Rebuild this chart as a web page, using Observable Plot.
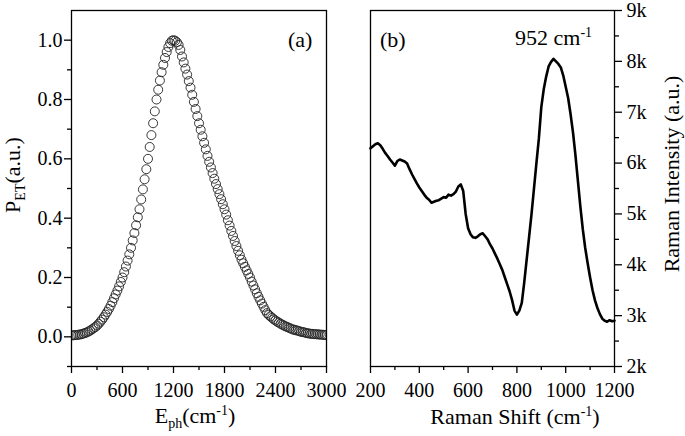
<!DOCTYPE html>
<html><head><meta charset="utf-8">
<script src="https://cdn.jsdelivr.net/npm/d3@7"></script>
<script src="https://cdn.jsdelivr.net/npm/@observablehq/plot@0.6"></script>
<style>
body{margin:0;background:#fff;}
#wrap{position:relative;width:685px;height:436px;overflow:hidden;background:#fff;}
#wrap svg{position:absolute;top:0;}
</style></head><body><div id="wrap"></div>
<script>
// Panel (a): P_ET vs E_ph
const ephE = [0,20,40,60,80,100,120,140,160,180,200,220,240,260,280,300,320,340,360,380,400,420,440,460,480,500,520,540,560,580,600,620,640,660,680,700,720,740,760,780,800,820,840,860,880,900,920,940,960,980,1000,1020,1040,1060,1080,1100,1120,1140,1160,1180,1200,1220,1240,1260,1280,1300,1320,1340,1360,1380,1400,1420,1440,1460,1480,1500,1520,1540,1560,1580,1600,1620,1640,1660,1680,1700,1720,1740,1760,1780,1800,1820,1840,1860,1880,1900,1920,1940,1960,1980,2000,2020,2040,2060,2080,2100,2120,2140,2160,2180,2200,2220,2240,2260,2280,2300,2320,2340,2360,2380,2400,2420,2440,2460,2480,2500,2520,2540,2560,2580,2600,2620,2640,2660,2680,2700,2720,2740,2760,2780,2800,2820,2840,2860,2880,2900,2920,2940,2960,2980,3000];
const petP = [0.005,0.005,0.006,0.006,0.007,0.008,0.009,0.011,0.013,0.015,0.018,0.021,0.025,0.029,0.033,0.038,0.044,0.051,0.058,0.066,0.075,0.084,0.094,0.105,0.117,0.130,0.143,0.156,0.170,0.185,0.200,0.218,0.237,0.257,0.278,0.300,0.325,0.350,0.376,0.403,0.430,0.463,0.497,0.531,0.565,0.600,0.640,0.680,0.720,0.760,0.800,0.833,0.864,0.892,0.917,0.940,0.960,0.977,0.990,0.998,1.000,0.998,0.993,0.984,0.967,0.945,0.925,0.904,0.884,0.862,0.840,0.816,0.792,0.768,0.744,0.720,0.698,0.676,0.654,0.632,0.610,0.590,0.571,0.552,0.533,0.515,0.498,0.481,0.464,0.447,0.430,0.412,0.393,0.375,0.357,0.340,0.323,0.306,0.290,0.275,0.260,0.248,0.236,0.224,0.212,0.200,0.186,0.173,0.160,0.147,0.135,0.123,0.112,0.101,0.090,0.080,0.074,0.069,0.064,0.059,0.055,0.051,0.048,0.044,0.041,0.038,0.035,0.033,0.030,0.028,0.025,0.024,0.022,0.021,0.019,0.017,0.016,0.015,0.013,0.012,0.011,0.010,0.010,0.009,0.009,0.008,0.008,0.007,0.007,0.006,0.006];

// Panel (b): Raman spectrum
const ramanShift = [200,210,220,230,240,250,260,270,280,290,300,310,320,330,340,350,360,370,380,390,400,410,420,430,440,450,460,470,480,490,500,510,520,530,540,550,560,570,580,590,600,610,620,630,640,650,660,670,680,690,700,710,720,730,740,750,760,770,780,790,800,810,820,830,840,850,860,870,880,890,900,910,920,930,940,950,960,970,980,990,1000,1010,1020,1030,1040,1050,1060,1070,1080,1090,1100,1110,1120,1130,1140,1150,1160,1170,1180,1190,1200];
const ramanIntensity = [6290,6330,6370,6390,6350,6280,6200,6140,6070,6010,5950,6040,6070,6050,6030,5990,5880,5780,5690,5600,5520,5450,5380,5320,5280,5220,5240,5260,5270,5300,5330,5320,5380,5360,5390,5440,5540,5580,5450,5000,4720,4600,4540,4530,4560,4600,4620,4560,4500,4400,4320,4220,4120,4010,3900,3760,3620,3480,3310,3100,3020,3100,3250,3650,4100,4550,5000,5500,6000,6480,7100,7450,7700,7900,7990,8050,8000,7950,7880,7720,7500,7280,6960,6600,6150,5650,5150,4700,4330,4030,3750,3500,3300,3150,3030,2940,2900,2880,2910,2890,2900];

// Ticks and labels
const leftYTicks = [0, 0.2, 0.4, 0.6, 0.8, 1.0];
const leftYMinor = [-0.1, 0.1, 0.3, 0.5, 0.7, 0.9];
const leftXTicks = [0, 600, 1200, 1800, 2400, 3000];
const leftXMinor = [300, 900, 1500, 2100, 2700];
const rightXTicks = [200, 400, 600, 800, 1000, 1200];
const rightXMinor = [300, 500, 700, 900, 1100];
const rightYTicks = [2000, 3000, 4000, 5000, 6000, 7000, 8000, 9000];
const rightYLabels = ["2k", "3k", "4k", "5k", "6k", "7k", "8k", "9k"];
const rightYMinor = [2500, 3500, 4500, 5500, 6500, 7500, 8500];

const font = "'Liberation Serif','Times New Roman',serif";
const pet = ephE.map((e, i) => ({e, p: petP[i]}));
const raman = ramanShift.map((s, i) => ({s, v: ramanIntensity[i]}));
const baseStyle = {fontFamily: font, fontSize: "20px", color: "black", background: "transparent", overflow: "visible"};
const blank = () => "";

const left = Plot.plot({
  width: 348, height: 436, marginLeft: 71, marginRight: 22, marginTop: 10, marginBottom: 70,
  style: baseStyle,
  x: {domain: [0, 3000]},
  y: {domain: [-0.1, 1.1]},
  marks: [
    Plot.dot(pet, {x: "e", y: "p", r: 4.5, stroke: "#222", strokeWidth: 0.9, fill: "none", clip: true}),
    Plot.frame({stroke: "black", strokeWidth: 1.3}),
    Plot.axisY(leftYTicks, {tickSize: 7, tickPadding: 2, tickFormat: d3.format(".1f"), label: null, fontSize: 20, strokeWidth: 1.3}),
    Plot.axisY(leftYMinor, {tickSize: 4, tickFormat: blank, label: null, strokeWidth: 1.3}),
    Plot.axisX(leftXTicks, {tickSize: 7, tickPadding: 9, tickFormat: d => String(d), label: null, fontSize: 20, strokeWidth: 1.3}),
    Plot.axisX(leftXMinor, {tickSize: 4, tickFormat: blank, label: null, strokeWidth: 1.3})
  ]
});

const right = Plot.plot({
  width: 337, height: 436, marginLeft: 22, marginRight: 71, marginTop: 10, marginBottom: 70,
  style: baseStyle,
  x: {domain: [200, 1200]},
  y: {domain: [2000, 9000]},
  marks: [
    Plot.line(raman, {x: "s", y: "v", stroke: "black", strokeWidth: 2.6, strokeLinejoin: "round"}),
    Plot.frame({stroke: "black", strokeWidth: 1.3}),
    Plot.axisY(rightYTicks, {anchor: "right", tickSize: 7, tickPadding: 5, tickFormat: d => rightYLabels[rightYTicks.indexOf(d)], label: null, fontSize: 20, strokeWidth: 1.3}),
    Plot.axisY(rightYMinor, {anchor: "right", tickSize: 4, tickFormat: blank, label: null, strokeWidth: 1.3}),
    Plot.axisX(rightXTicks, {tickSize: 7, tickPadding: 9, tickFormat: d => String(d), label: null, fontSize: 20, strokeWidth: 1.3}),
    Plot.axisX(rightXMinor, {tickSize: 4, tickFormat: blank, label: null, strokeWidth: 1.3})
  ]
});

left.style.left = "0px";
right.style.left = "348px";
const wrap = document.getElementById("wrap");
wrap.appendChild(left);
wrap.appendChild(right);

// Text labels with sub/superscripts
function label(svg, x, y, parts, opts = {}) {
  const t = d3.select(svg).append("text")
    .attr("font-family", font)
    .attr("font-size", opts.size || 22)
    .attr("fill", "black")
    .attr("text-anchor", opts.anchor || "middle")
    .attr("transform", `translate(${x},${y})` + (opts.rotate ? ` rotate(${opts.rotate})` : ""));
  let shift = 0;
  for (const p of parts) {
    const target = p.sub ? 5 : p.sup ? -8 : 0;
    const s = t.append("tspan").text(p.t).attr("dy", target - shift);
    if (p.sub || p.sup) s.attr("font-size", 14);
    shift = target;
  }
  return t;
}

label(left, 20, 175, [{t: "P"}, {t: "ET", sub: true}, {t: "(a.u.)"}], {rotate: -90});
label(left, 195, 423, [{t: "E"}, {t: "ph", sub: true}, {t: "(cm"}, {t: "-1", sup: true}, {t: ")"}]);
label(left, 288, 47, [{t: "(a)"}], {anchor: "start"});

label(right, 167, 424, [{t: "Raman Shift (cm"}, {t: "-1", sup: true}, {t: ")"}]);
label(right, 331, 174, [{t: "Raman Intensity (a.u.)"}], {rotate: -90});
label(right, 32, 47, [{t: "(b)"}], {anchor: "start"});
label(right, 167, 45, [{t: "952 cm"}, {t: "-1", sup: true}], {anchor: "start"});
</script>
</body></html>
